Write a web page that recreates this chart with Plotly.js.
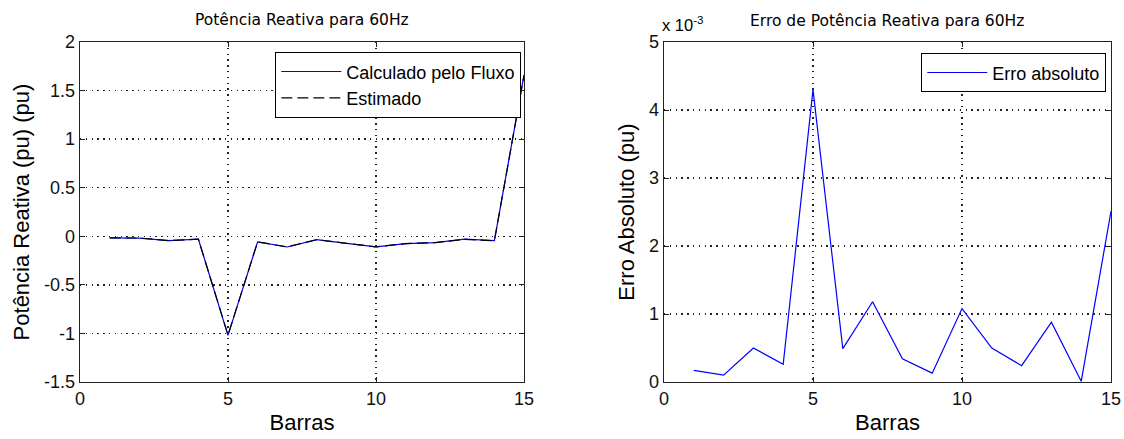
<!DOCTYPE html>
<html>
<head>
<meta charset="utf-8">
<script src="https://cdn.plot.ly/plotly-3.0.1.min.js"></script>
<style>html,body{margin:0;padding:0;background:#fff;}#chart{width:1124px;height:439px;}</style>
</head>
<body>
<div id="chart"></div>
<script>
// Barras (bus numbers)
const barras = [1, 2, 3, 4, 5, 6, 7, 8, 9, 10, 11, 12, 13, 14, 15];
// Reactive power computed by the power flow (pu)
const calculadoPeloFluxo = [-0.017, -0.018, -0.045, -0.030, -1.020, -0.058, -0.110, -0.035, -0.072, -0.110, -0.075, -0.065, -0.030, -0.045, 1.660];
// Estimated reactive power (pu)
const estimado = [-0.017, -0.018, -0.045, -0.030, -1.016, -0.058, -0.109, -0.035, -0.072, -0.109, -0.075, -0.065, -0.031, -0.045, 1.657];
// Absolute error (pu)
const erroAbsoluto = [0.00017, 0.00010, 0.00050, 0.00026, 0.00430, 0.00049, 0.00118, 0.00034, 0.00013, 0.00108, 0.00050, 0.00024, 0.00088, 0.00001, 0.00251];

// Tick labels
const xTicks = [0, 5, 10, 15];
const xTickText = ['0', '5', '10', '15'];
const yTicksLeft = [-1.5, -1, -0.5, 0, 0.5, 1, 1.5, 2];
const yTickTextLeft = ['-1.5', '-1', '-0.5', '0', '0.5', '1', '1.5', '2'];
const yTicksRight = [0, 0.001, 0.002, 0.003, 0.004, 0.005];
const yTickTextRight = ['0', '1', '2', '3', '4', '5'];

const W = 1124, H = 439;
const tickFont = {family: 'Liberation Sans, Arial, sans-serif', size: 18, color: '#111'};
const axTitleFont = {family: 'Liberation Sans, Arial, sans-serif', size: 22, color: '#000'};
const titleFont = {family: 'DejaVu Sans, sans-serif', size: 15.5, color: '#000'};

function axisBase(extra) {
  return Object.assign({
    showline: true, linecolor: '#222', linewidth: 1.3, mirror: 'allticks',
    ticks: 'inside', ticklen: 5, tickcolor: '#222', tickwidth: 1,
    showgrid: true, gridcolor: '#222', griddash: '1.3px,4.5px', gridwidth: 1.3,
    zeroline: false, tickfont: tickFont, tickmode: 'array', fixedrange: true
  }, extra);
}

const traces = [
  {x: barras, y: calculadoPeloFluxo, name: 'Calculado pelo Fluxo', type: 'scatter', mode: 'lines',
   line: {color: '#0000ff', width: 1.2}, xaxis: 'x', yaxis: 'y', legend: 'legend'},
  {x: barras, y: estimado, name: 'Estimado', type: 'scatter', mode: 'lines',
   line: {color: '#000000', width: 1.2, dash: '11px,5px'}, xaxis: 'x', yaxis: 'y', legend: 'legend'},
  {x: barras, y: erroAbsoluto, name: 'Erro absoluto', type: 'scatter', mode: 'lines',
   line: {color: '#0000ff', width: 1.2}, xaxis: 'x2', yaxis: 'y2', legend: 'legend2'}
];

const yDom = [(H - 382) / H, (H - 42) / H];
const legendFont = {family: 'Liberation Sans, Arial, sans-serif', size: 18, color: '#000'};
const layout = {
  width: W, height: H,
  margin: {l: 0, r: 0, t: 0, b: 0},
  paper_bgcolor: '#fff', plot_bgcolor: '#fff',
  showlegend: true,
  xaxis: axisBase({domain: [80 / W, 524 / W], range: [0, 15], tickvals: xTicks, ticktext: xTickText,
    anchor: 'y', title: {text: 'Barras', font: axTitleFont, standoff: 6}}),
  yaxis: axisBase({domain: yDom, range: [-1.5, 2], tickvals: yTicksLeft, ticktext: yTickTextLeft,
    anchor: 'x', title: {text: 'Potência Reativa (pu) (pu)', font: axTitleFont, standoff: 8}}),
  xaxis2: axisBase({domain: [664 / W, 1111 / W], range: [0, 15], tickvals: xTicks, ticktext: xTickText,
    anchor: 'y2', title: {text: 'Barras', font: axTitleFont, standoff: 6}}),
  yaxis2: axisBase({domain: yDom, range: [0, 0.005], tickvals: yTicksRight, ticktext: yTickTextRight,
    anchor: 'x2', title: {text: 'Erro Absoluto (pu)', font: axTitleFont, standoff: 8}}),
  legend: {x: 521 / W, y: 1 - 52 / H, xanchor: 'right', yanchor: 'top', xref: 'paper', yref: 'paper',
    bordercolor: '#000', borderwidth: 1.3, bgcolor: '#fff', font: legendFont, itemwidth: 60,
    itemclick: false, itemdoubleclick: false, tracegroupgap: 0},
  legend2: {x: 1106 / W, y: 1 - 53 / H, xanchor: 'right', yanchor: 'top', xref: 'paper', yref: 'paper',
    bordercolor: '#000', borderwidth: 1.3, bgcolor: '#fff', font: legendFont, itemwidth: 60,
    itemclick: false, itemdoubleclick: false},
  annotations: [
    {text: 'Potência Reativa para 60Hz', xref: 'paper', yref: 'paper', x: 302 / W, y: 1 - 20 / H,
     xanchor: 'center', yanchor: 'middle', showarrow: false, font: titleFont},
    {text: 'Erro de Potência Reativa para 60Hz', xref: 'paper', yref: 'paper', x: 887 / W, y: 1 - 21 / H,
     xanchor: 'center', yanchor: 'middle', showarrow: false, font: titleFont},
    {text: 'x 10<sup>-3</sup>', xref: 'paper', yref: 'paper', x: 660 / W, y: 1 - 36 / H,
     xanchor: 'left', yanchor: 'bottom', showarrow: false,
     font: {family: 'Liberation Sans, Arial, sans-serif', size: 16.5, color: '#000'}}
  ]
};

Plotly.newPlot('chart', traces, layout, {staticPlot: true, displayModeBar: false});
</script>
</body>
</html>
